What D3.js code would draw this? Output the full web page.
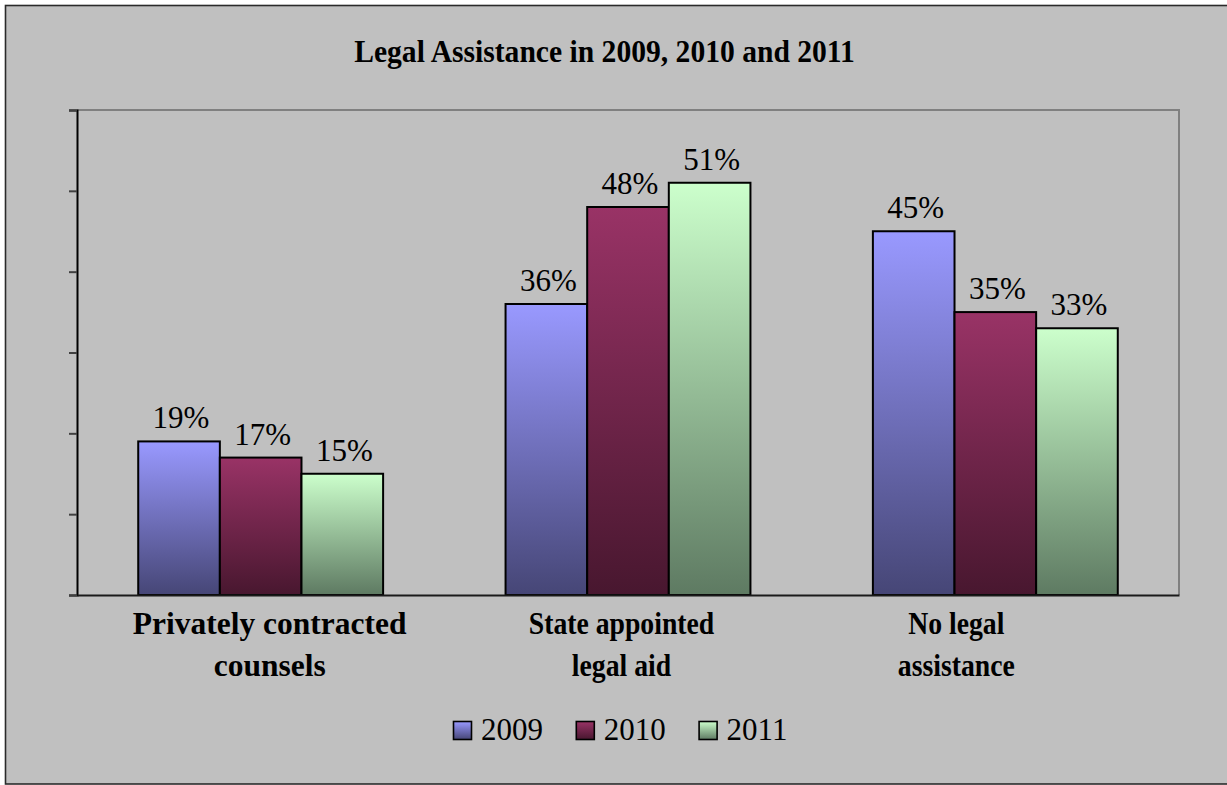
<!DOCTYPE html>
<html>
<head>
<meta charset="utf-8">
<script src="https://cdn.jsdelivr.net/npm/d3@7"></script>
<style>
  html, body { margin: 0; padding: 0; background: #ffffff; }
  svg { display: block; }
</style>
</head>
<body>
<svg id="chart" width="1227" height="785"></svg>
<script>
// Data
const categories = [
  ["Privately contracted", "counsels"],
  ["State appointed", "legal aid"],
  ["No legal", "assistance"]
];
const seriesNames = ["2009", "2010", "2011"];
const values2009 = [19, 36, 45];
const values2010 = [17, 48, 35];
const values2011 = [15, 51, 33];
const yTicks = [0, 10, 20, 30, 40, 50, 60];
const titleText = "Legal Assistance in 2009, 2010 and 2011";

const seriesValues = [values2009, values2010, values2011];

// Gradient ends for each series (top colour, bottom colour)
const seriesColors = [
  ["#9999ff", "#464676"],
  ["#993366", "#48172f"],
  ["#ccffcc", "#5e7a62"]
];

const SERIF = "'Liberation Serif', 'Times New Roman', Times, serif";
const W = 1227, H = 785;
const plot = { left: 77, right: 1179, top: 110, bottom: 595 };

const svg = d3.select("#chart");
const defs = svg.append("defs");

seriesColors.forEach((c, i) => {
  const g = defs.append("linearGradient")
    .attr("id", "grad" + i)
    .attr("x1", 0).attr("y1", 0).attr("x2", 0).attr("y2", 1);
  g.append("stop").attr("offset", "0%").attr("stop-color", c[0]);
  g.append("stop").attr("offset", "100%").attr("stop-color", c[1]);
});

// Chart area background and frame
svg.append("rect")
  .attr("x", 5.5).attr("y", 5.5)
  .attr("width", W + 10).attr("height", H - 6.5)
  .attr("fill", "#c0c0c0")
  .attr("stroke", "#2a2a2a")
  .attr("stroke-width", 1.6);

// Scales
const x0 = d3.scaleBand()
  .domain(d3.range(categories.length))
  .range([plot.left, plot.right])
  .paddingInner(0).paddingOuter(0);

const x1 = d3.scaleBand()
  .domain(d3.range(seriesNames.length))
  .range([0, x0.bandwidth()])
  .paddingInner(0).paddingOuter(0.75);

const y = d3.scaleLinear().domain([0, 60]).range([plot.bottom, plot.top]);

// Plot area frame (top and right edges)
svg.append("path")
  .attr("d", `M${plot.left},${plot.top}H${plot.right}V${plot.bottom}`)
  .attr("fill", "none")
  .attr("stroke", "#808080")
  .attr("stroke-width", 2);

// Bars
const groups = svg.append("g").selectAll("g")
  .data(categories.map((c, i) => i))
  .join("g")
  .attr("transform", i => `translate(${x0(i)},0)`);

groups.selectAll("rect")
  .data(ci => seriesValues.map((vals, si) => ({ si, v: vals[ci] })))
  .join("rect")
  .attr("x", d => x1(d.si))
  .attr("y", d => y(d.v))
  .attr("width", x1.bandwidth())
  .attr("height", d => y(0) - y(d.v))
  .attr("fill", d => `url(#grad${d.si})`)
  .attr("stroke", "#000")
  .attr("stroke-width", 2);

// Value labels
groups.selectAll("text.val")
  .data(ci => seriesValues.map((vals, si) => ({ si, v: vals[ci] })))
  .join("text")
  .attr("class", "val")
  .attr("x", d => x1(d.si) + x1.bandwidth() / 2 + 2)
  .attr("y", d => y(d.v) - 13)
  .attr("text-anchor", "middle")
  .attr("font-family", SERIF)
  .attr("font-size", 31)
  .attr("fill", "#000")
  .text(d => d.v + "%");

// Y axis (ticks only, no labels)
const yAxis = svg.append("g")
  .attr("transform", `translate(${plot.left},0)`)
  .call(d3.axisLeft(y).tickValues(yTicks).tickSize(8).tickFormat(""));
yAxis.select(".domain").attr("stroke", "#000").attr("stroke-width", 2);
yAxis.selectAll(".tick line").attr("stroke", "#404040").attr("stroke-width", 2);

// Category axis line
const xAxis = svg.append("g")
  .attr("transform", `translate(0,${plot.bottom})`)
  .call(d3.axisBottom(x0).tickSize(0).tickFormat(""));
xAxis.select(".domain").attr("stroke", "#1a1a1a").attr("stroke-width", 2.2);

// Category labels (wrapped in two lines)
const labelShift = [9, -6.5, -39];
const labelSqueeze = [1, 0.88, 0.88];
categories.forEach((lines, i) => {
  const cx = x0(i) + x0.bandwidth() / 2 + labelShift[i];
  const t = svg.append("text")
    .attr("transform", `translate(${cx},0) scale(${labelSqueeze[i]},1)`)
    .attr("text-anchor", "middle")
    .attr("font-family", SERIF)
    .attr("font-weight", "bold")
    .attr("font-size", 31.5)
    .attr("fill", "#000");
  lines.forEach((ln, k) => {
    t.append("tspan").attr("x", 0).attr("y", 634 + k * 41.7).text(ln);
  });
});

// Title
svg.append("text")
  .attr("transform", "translate(604.5,62) scale(0.925,1)")
  .attr("text-anchor", "middle")
  .attr("font-family", SERIF)
  .attr("font-weight", "bold")
  .attr("font-size", 32)
  .attr("fill", "#000")
  .text(titleText);

// Legend
const legend = svg.append("g").attr("transform", "translate(453,740)");
const item = legend.selectAll("g")
  .data(seriesNames)
  .join("g")
  .attr("transform", (d, i) => `translate(${i * 122.8},0)`);
item.append("rect")
  .attr("x", 0.5).attr("y", -18.5)
  .attr("width", 18).attr("height", 18)
  .attr("fill", (d, i) => `url(#grad${i})`)
  .attr("stroke", "#000")
  .attr("stroke-width", 1.6);
item.append("text")
  .attr("x", 28)
  .attr("y", 0)
  .attr("font-family", SERIF)
  .attr("font-size", 31)
  .attr("fill", "#000")
  .text(d => d);
</script>
</body>
</html>
